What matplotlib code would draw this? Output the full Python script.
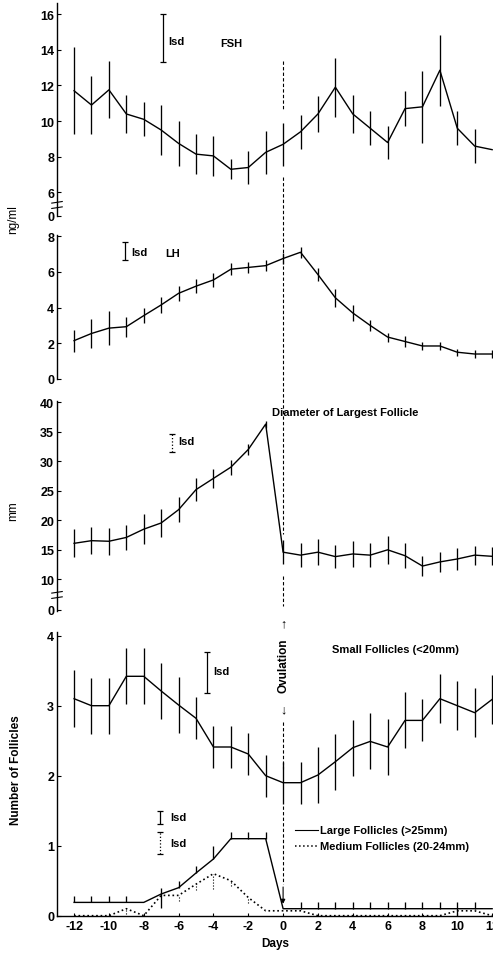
import numpy as np
import matplotlib
matplotlib.use('Agg')
import matplotlib.pyplot as plt
from matplotlib.lines import Line2D
from matplotlib.transforms import blended_transform_factory

plt.rcParams['font.family'] = ['Liberation Sans', 'DejaVu Sans']
plt.rcParams['axes.unicode_minus'] = False

days = list(range(-12, 13))

# FSH (ng/ml)
fsh = [11.7, 10.9, 11.75, 10.4, 10.1, 9.5, 8.75, 8.15, 8.05, 7.3, 7.4, 8.25, 8.7,
       9.4, 10.4, 11.9, 10.4, 9.6, 8.8, 10.7, 10.8, 12.85, 9.6, 8.6, 8.4]
fsh_err = [2.45, 1.6, 1.6, 1.05, 0.95, 1.4, 1.25, 1.1, 1.1, 0.55, 0.9, 1.2, 1.2,
           0.95, 1.0, 1.65, 1.05, 0.95, 0.95, 1.0, 2.0, 2.0, 0.95, 0.95, 0.0]

# LH (ng/ml)
lh = [2.15, 2.55, 2.85, 2.93, 3.55, 4.15, 4.8, 5.2, 5.55, 6.15, 6.25, 6.35, 6.75,
      7.1, 5.85, 4.55, 3.7, 3.0, 2.35, 2.1, 1.85, 1.85, 1.5, 1.4, 1.4]
lh_err = [0.62, 0.8, 0.95, 0.56, 0.4, 0.45, 0.42, 0.4, 0.4, 0.35, 0.3, 0.3, 0.3,
          0.3, 0.35, 0.5, 0.45, 0.3, 0.25, 0.3, 0.2, 0.25, 0.2, 0.2, 0.2]

# Diameter of largest follicle (mm)
diam = [16.1, 16.55, 16.45, 17.1, 18.5, 19.55, 21.8, 25.2, 27.1, 29.0, 32.0, 36.3, 14.6,
        14.1, 14.6, 13.85, 14.3, 14.1, 15.0, 14.0, 12.25, 12.95, 13.45, 14.1, 13.9]
diam_err = [2.4, 2.3, 2.3, 2.1, 2.5, 2.4, 2.1, 1.9, 1.6, 1.3, 1.0, 0.6, 2.0,
            2.0, 2.2, 2.0, 2.2, 2.0, 2.4, 2.1, 1.7, 1.7, 1.9, 1.6, 1.5]

# Number of follicles
small = [3.1, 3.0, 3.0, 3.42, 3.42, 3.21, 3.01, 2.82, 2.41, 2.41, 2.31, 2.0, 1.9,
         1.9, 2.01, 2.2, 2.4, 2.49, 2.41, 2.79, 2.79, 3.1, 3.0, 2.9, 3.09]
small_err = [0.41, 0.4, 0.4, 0.4, 0.4, 0.4, 0.4, 0.3, 0.3, 0.3, 0.3, 0.3, 0.3,
             0.3, 0.4, 0.4, 0.4, 0.4, 0.4, 0.4, 0.3, 0.35, 0.35, 0.35, 0.35]
large = [0.19, 0.19, 0.19, 0.19, 0.19, 0.31, 0.4, 0.61, 0.81, 1.1, 1.1, 1.1, 0.1,
         0.1, 0.1, 0.1, 0.1, 0.1, 0.1, 0.1, 0.1, 0.1, 0.1, 0.1, 0.1]
large_up = [0.09, 0.09, 0.09, 0.09, 0.0, 0.08, 0.1, 0.1, 0.19, 0.09, 0.09, 0.09, 0.0,
            0.09, 0.09, 0.09, 0.09, 0.09, 0.09, 0.09, 0.09, 0.09, 0.09, 0.09, 0.0]
large_lo = [0, 0, 0, 0, 0, 0.2, 0, 0, 0, 0, 0, 0, 0,
            0, 0, 0, 0, 0, 0, 0, 0, 0, 0.1, 0, 0]
medium = [0.0, 0.0, 0.0, 0.1, 0.0, 0.29, 0.29, 0.45, 0.6, 0.5, 0.26, 0.07, 0.07,
          0.07, 0.0, 0.0, 0.0, 0.0, 0.0, 0.0, 0.0, 0.0, 0.07, 0.07, 0.0]
medium_lo = [0, 0, 0, 0.08, 0, 0, 0.08, 0.08, 0.22, 0.08, 0.08, 0, 0,
             0, 0, 0, 0, 0, 0, 0, 0, 0, 0, 0, 0]

# lsd bars: (day, centre, half length)
lsd_fsh = (-6.9, 14.65, 1.35)
lsd_lh = (-9.07, 7.19, 0.51)
lsd_diam = (-6.37, 33.1, 1.6)
lsd_small = (-4.37, 3.475, 0.295)
lsd_large = (-7.06, 1.405, 0.095)
lsd_medium = (-7.06, 1.035, 0.155)

W, H = 493, 954
fig = plt.figure(figsize=(W / 100, H / 100), dpi=100)

def make_axes(top, bottom, ylim):
    ax = fig.add_axes([57 / W, 1 - bottom / H, (W - 57) / W, (bottom - top) / H])
    ax.set_xlim(-12.98, 12.05)
    ax.set_ylim(*ylim)
    for s in ['top', 'right']:
        ax.spines[s].set_visible(False)
    ax.spines['left'].set_linewidth(1.0)
    ax.tick_params(axis='y', direction='in', length=3, width=0.8, pad=2, labelsize=9)
    return ax

ax1 = make_axes(4.3, 216.7, (4.7, 16.6))
ax2 = make_axes(236.3, 380, (0, 8.05))
ax3 = make_axes(402.1, 612.2, (4.6, 40.2))
ax4 = make_axes(633.2, 916.7, (0, 4.05))

for ax in (ax1, ax2, ax3):
    ax.spines['bottom'].set_visible(False)
    ax.set_xticks([])

ax1.set_yticks([4.7, 6, 8, 10, 12, 14, 16])
ax1.set_yticklabels(['0', '6', '8', '10', '12', '14', '16'], fontweight='bold')
ax2.set_yticks([0, 2, 4, 6, 8])
ax2.set_yticklabels(['0', '2', '4', '6', '8'], fontweight='bold')
ax3.set_yticks([4.85, 10, 15, 20, 25, 30, 35, 40])
ax3.set_yticklabels(['0', '10', '15', '20', '25', '30', '35', '40'], fontweight='bold')
ax4.set_yticks([0, 1, 2, 3, 4])
ax4.set_yticklabels(['0', '1', '2', '3', '4'], fontweight='bold')

ax4.set_xticks(range(-12, 13, 2))
ax4.set_xticklabels([str(d) for d in range(-12, 13, 2)], fontweight='bold')
ax4.tick_params(axis='x', direction='in', length=2, width=0.8, pad=3, labelsize=9)
ax4.spines['bottom'].set_linewidth(1.0)
ax4.set_xlabel('Days', fontsize=8.5, fontweight='bold', labelpad=4)

lw = 1.0
ebkw = dict(color='black', lw=lw, elinewidth=0.95, capsize=0)
ax1.errorbar(days, fsh, yerr=fsh_err, **ebkw)
ax2.errorbar(days, lh, yerr=lh_err, **ebkw)
ax3.errorbar(days, diam, yerr=diam_err, **ebkw)
ax4.errorbar(days, small, yerr=small_err, **ebkw)
ax4.errorbar(days, large, yerr=[large_lo, large_up], **ebkw)
eb = ax4.errorbar(days, medium, yerr=[medium_lo, [0] * len(days)], color='black',
                  lw=1.2, ls=':', elinewidth=0.8, capsize=0)
eb[2][0].set_linestyle(':')

# lsd bars
def lsd_bar(ax, spec, ls='-'):
    x, c, h = spec
    e = ax.errorbar([x], [c], yerr=[h], color='black', lw=0, elinewidth=0.9,
                    capsize=2, capthick=0.9)
    e[2][0].set_linestyle(ls)

lsd_bar(ax1, lsd_fsh)
lsd_bar(ax2, lsd_lh)
lsd_bar(ax3, lsd_diam, ':')
lsd_bar(ax4, lsd_small)
lsd_bar(ax4, lsd_large)
lsd_bar(ax4, lsd_medium, ':')

tk = dict(fontsize=8, fontweight='bold', va='center', ha='left')
ax1.text(-6.6, 14.49, 'lsd', **tk)
ax1.text(-3.62, 14.38, 'FSH', **tk)
ax2.text(-8.73, 7.11, 'lsd', **tk)
ax2.text(-6.78, 7.06, 'LH', **tk)
ax3.text(-6.03, 33.44, 'lsd', **tk)
ax3.text(-0.63, 38.36, 'Diameter of Largest Follicle', **tk)
ax4.text(-4.02, 3.5, 'lsd', **tk)
ax4.text(2.81, 3.81, 'Small Follicles (<20mm)', **tk)
ax4.text(-6.49, 1.41, 'lsd', **tk)
ax4.text(-6.49, 1.04, 'lsd', **tk)

# legend drawn by hand
ax4.plot([0.69, 2.0], [1.23, 1.23], color='black', lw=0.8)
ax4.plot([0.69, 2.0], [1.0, 1.0], color='black', lw=1.1, ls=':')
ax4.text(2.12, 1.23, 'Large Follicles (>25mm)', **tk)
ax4.text(2.12, 1.0, 'Medium Follicles (20-24mm)', **tk)

# axis breaks
for ax, ys in ((ax1, [5.15, 5.45]), (ax3, [6.9, 7.8])):
    tr = ax.get_yaxis_transform()
    span = ax.get_ylim()[1] - ax.get_ylim()[0]
    for y in ys:
        ax.plot([-0.012, 0.012], [y - 0.15 * span / 40, y + 0.15 * span / 40],
                transform=tr, color='black', lw=0.8, clip_on=False)

# y labels
fig.text(13 / W, 1 - 220 / H, 'ng/ml', rotation=90, ha='center', va='center', fontsize=8.5)
fig.text(13 / W, 1 - 511 / H, 'mm', rotation=90, ha='center', va='center', fontsize=8.5)
fig.text(16 / W, 1 - 770 / H, 'Number of Follicles', rotation=90, ha='center', va='center',
         fontsize=8.5, fontweight='bold')

# ovulation line
trans = blended_transform_factory(ax4.transData, fig.transFigure)
for a, b in [(62, 110), (178, 535), (577, 607), (723, 770), (807, 885)]:
    fig.add_artist(Line2D([0, 0], [1 - a / H, 1 - b / H], transform=trans, color='black',
                          lw=0.8, ls=(0, (3, 2))))
ax4.annotate('', xy=(0, 0.13), xytext=(0, 0.45),
             arrowprops=dict(arrowstyle='-|>', color='black', lw=0.8, mutation_scale=6))
fig.text(0, 1 - 624 / H, '↑', transform=trans, ha='center', va='center', fontsize=9,
         fontweight='bold')
fig.text(0, 1 - 666 / H, 'Ovulation', transform=trans, rotation=90, ha='center', va='center',
         fontsize=8.5, fontweight='bold')
fig.text(0, 1 - 710 / H, '↓', transform=trans, ha='center', va='center', fontsize=9,
         fontweight='bold')

fig.savefig('out.png', dpi=100, facecolor='white')
